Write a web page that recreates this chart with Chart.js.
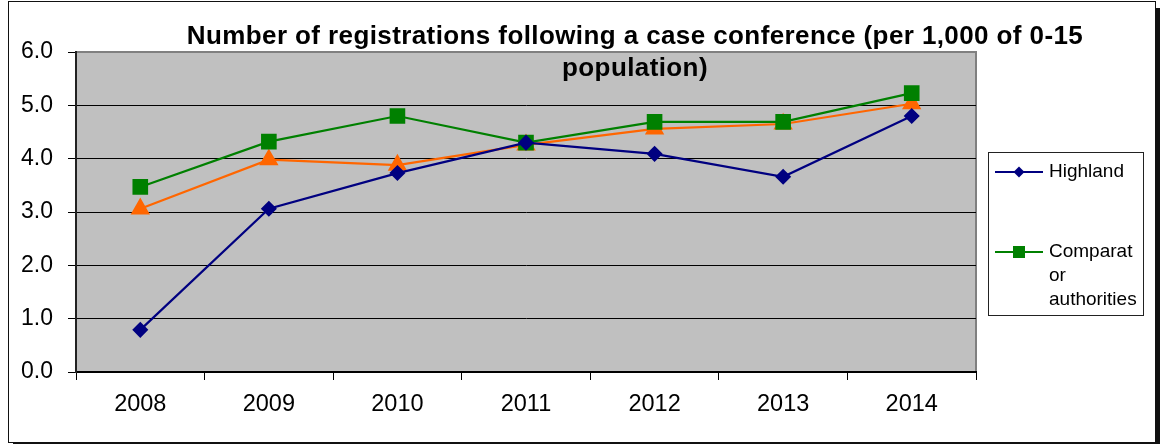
<!DOCTYPE html>
<html>
<head>
<meta charset="utf-8">
<script src="https://cdn.jsdelivr.net/npm/chart.js@4/dist/chart.umd.min.js"></script>
<style>
  body { margin: 0; background: #fff; }
  #frame {
    position: absolute; left: 8px; top: 1px;
    width: 1146px; height: 440px;
    border: 1px solid #111;
    box-shadow: 5px 7px 0 #111;
    background: #fff;
  }
  #wrap { position: absolute; left: 0; top: 0; width: 1160px; height: 444px; }
</style>
</head>
<body>
<div id="frame"></div>
<div id="wrap"><canvas id="chart" width="1160" height="444"></canvas></div>
<script>
// data
const years = ['2008', '2009', '2010', '2011', '2012', '2013', '2014'];
const highland = [0.79, 3.06, 3.73, 4.30, 4.09, 3.66, 4.80];
const comparator = [3.47, 4.32, 4.80, 4.30, 4.69, 4.69, 5.23];
const scotland = [3.06, 3.98, 3.88, 4.26, 4.56, 4.65, 5.03];
const seriesNames = ['Highland', 'Comparator authorities', 'Scotland'];
const legendText = [['Highland'], ['Comparat', 'or', 'authorities']];
const titleLines = ['Number of registrations following a case conference (per 1,000 of 0-15', 'population)'];

const FONT = 'Arial, "Liberation Sans", sans-serif';

function marker(ctx, style, x, y, r, color) {
  ctx.save();
  ctx.fillStyle = color;
  ctx.beginPath();
  if (style === 'rectRot') {
    ctx.moveTo(x, y - r); ctx.lineTo(x + r, y); ctx.lineTo(x, y + r); ctx.lineTo(x - r, y);
  } else if (style === 'rect') {
    const h = r * Math.SQRT1_2;
    ctx.rect(x - h, y - h, 2 * h, 2 * h);
  }
  ctx.closePath();
  ctx.fill();
  ctx.restore();
}

const plotBg = {
  id: 'plotBg',
  beforeDraw(chart) {
    const { ctx, chartArea: a } = chart;
    ctx.save();
    ctx.fillStyle = '#c0c0c0';
    ctx.fillRect(a.left, a.top, a.right - a.left, a.bottom - a.top);
    ctx.strokeStyle = '#808080';
    ctx.lineWidth = 2;
    ctx.strokeRect(a.left, a.top, a.right - a.left, a.bottom - a.top);
    ctx.restore();
  }
};

const titleAndLegend = {
  id: 'titleAndLegend',
  afterDraw(chart) {
    const ctx = chart.ctx;
    ctx.save();
    // title
    ctx.fillStyle = '#000';
    ctx.font = 'bold 26px ' + FONT;
    ctx.letterSpacing = '0.4px';
    ctx.textAlign = 'center';
    ctx.textBaseline = 'middle';
    titleLines.forEach((t, i) => ctx.fillText(t, 635, 37 + i * 32));
    ctx.letterSpacing = '0px';

    // legend box
    ctx.fillStyle = '#fff';
    ctx.fillRect(988, 152, 155, 163);
    ctx.strokeStyle = '#222';
    ctx.lineWidth = 1;
    ctx.strokeRect(988.5, 152.5, 155, 163);

    const rows = [172, 252];
    ctx.font = '19px ' + FONT;
    ctx.textAlign = 'left';
    legendText.forEach((lines, i) => {
      const ds = chart.data.datasets[i];
      const y = rows[i];
      ctx.strokeStyle = ds.borderColor;
      ctx.lineWidth = 2;
      ctx.beginPath();
      ctx.moveTo(995, y); ctx.lineTo(1043, y);
      ctx.stroke();
      marker(ctx, ds.pointStyle, 1019, y, i === 0 ? 5.5 : 8.5, ds.borderColor);
      ctx.fillStyle = '#000';
      lines.forEach((l, j) => ctx.fillText(l, 1049, y + j * 24));
    });
    ctx.restore();
  }
};

new Chart(document.getElementById('chart'), {
  type: 'line',
  data: {
    labels: years,
    datasets: [
      { label: seriesNames[0], data: highland, borderColor: '#000080', backgroundColor: '#000080',
        pointStyle: 'rectRot', pointRadius: 6.5, borderWidth: 2.2 },
      { label: seriesNames[1], data: comparator, borderColor: '#008000', backgroundColor: '#008000',
        pointStyle: 'rect', pointRadius: 9.5, borderWidth: 2.2 },
      { label: seriesNames[2], data: scotland, borderColor: '#ff6600', backgroundColor: '#ff6600',
        pointStyle: 'triangle', pointRadius: 9, borderWidth: 2.2 }
    ]
  },
  options: {
    responsive: false,
    animation: false,
    events: [],
    layout: { padding: { top: 52, right: 184, left: 0, bottom: 0 } },
    elements: { line: { tension: 0 }, point: { borderWidth: 0 } },
    plugins: { legend: { display: false }, tooltip: { enabled: false }, title: { display: false } },
    scales: {
      x: {
        offset: true,
        afterFit: (s) => { s.height = 72; },
        grid: { offset: true, drawOnChartArea: false, drawTicks: true, tickLength: 8, color: '#000', lineWidth: 1 },
        border: { color: '#000', width: 2 },
        ticks: { color: '#000', font: { family: FONT, size: 23.5 }, padding: 10, maxRotation: 0 }
      },
      y: {
        min: 0, max: 6,
        afterFit: (s) => { s.width = 76; },
        grid: {
          color: (c) => c.tick && c.tick.value === 6 ? '#808080' : '#000',
          tickColor: '#000', lineWidth: 1, tickLength: 8
        },
        border: { color: '#222', width: 2 },
        ticks: { stepSize: 1, color: '#000', padding: 15, font: { family: FONT, size: 23 },
          callback: (v) => Number(v).toFixed(1) }
      }
    }
  },
  plugins: [plotBg, titleAndLegend]
});
</script>
</body>
</html>
